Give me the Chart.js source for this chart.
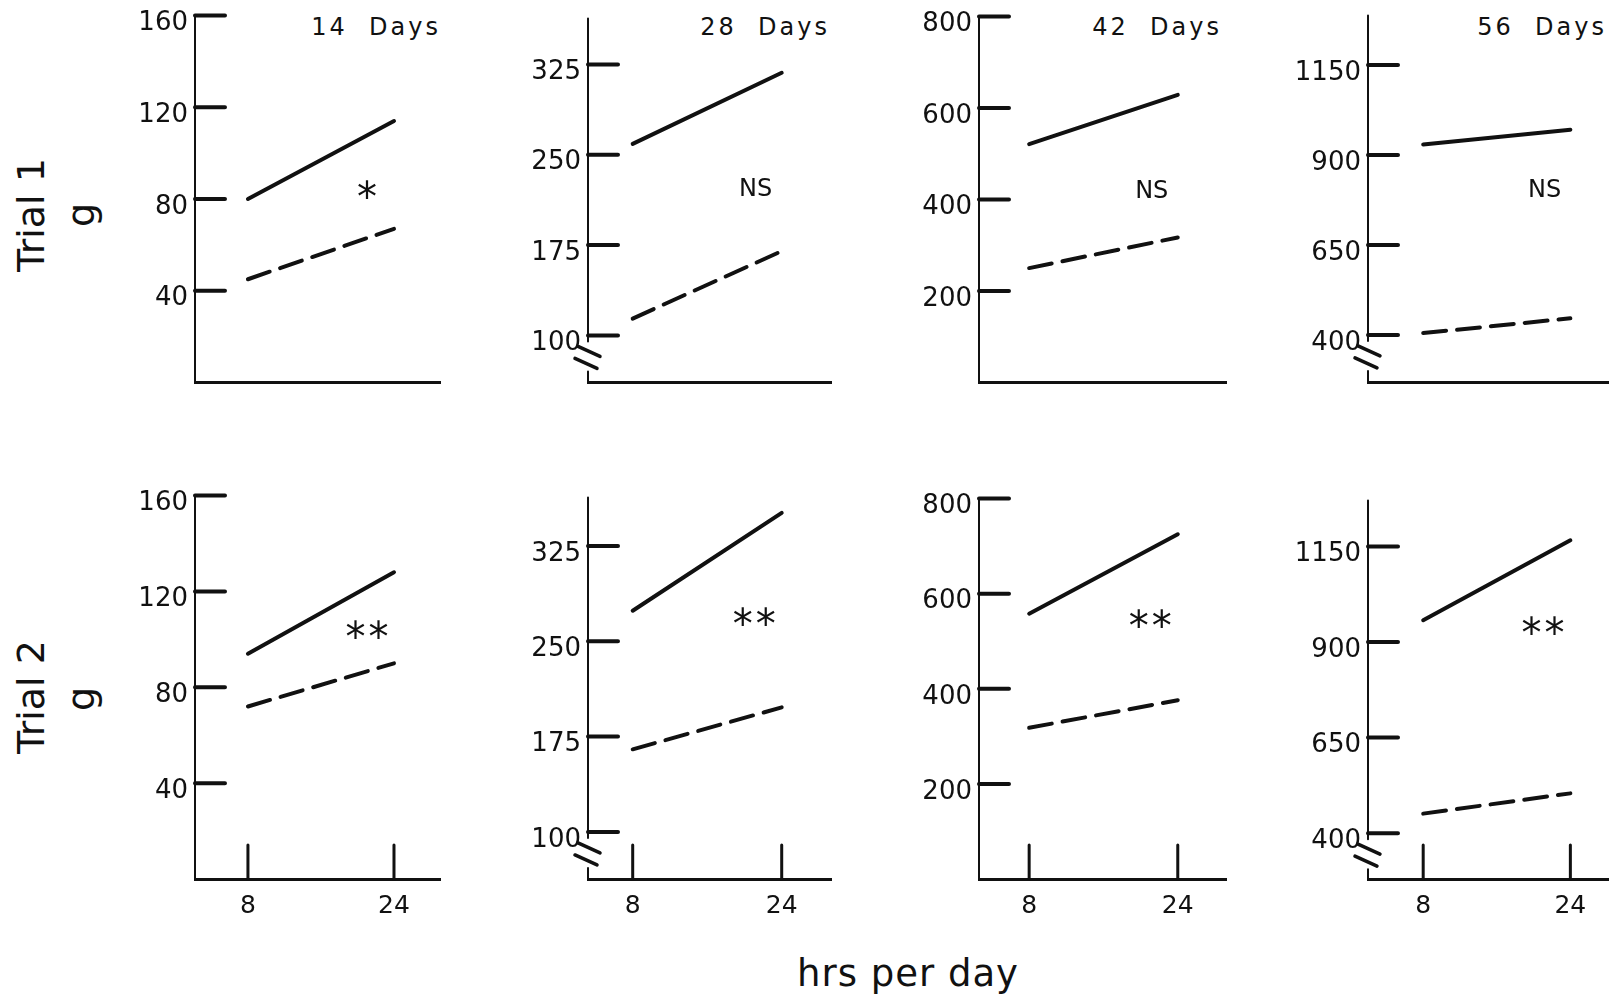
<!DOCTYPE html>
<html>
<head>
<meta charset="utf-8">
<script src="https://cdn.jsdelivr.net/npm/chart.js@4.4.1/dist/chart.umd.min.js"></script>
<style>
  body {
    margin: 0;
    width: 1609px;
    height: 994px;
    overflow: hidden;
    position: relative;
    background: #fff;
    color: #111;
    font-family: "DejaVu Sans", sans-serif;
  }
  canvas { position: absolute; }
  .lbl { position: absolute; white-space: pre; }
  .title { font-size: 24px; line-height: 24px; letter-spacing: 3px; width: 203px; text-align: right; }
  .side { font-size: 38px; line-height: 38px; width: 200px; height: 38px; text-align: center; transform: rotate(-90deg); }
  .xtitle { font-size: 37px; line-height: 37px; letter-spacing: 1px; width: 416px; text-align: center; }
</style>
</head>
<body>

<div class="lbl title" style="left:238px; top:15px">14  Days</div>
<div class="lbl title" style="left:627px; top:15px">28  Days</div>
<div class="lbl title" style="left:1019px; top:15px">42  Days</div>
<div class="lbl title" style="left:1404px; top:15px">56  Days</div>

<div class="lbl side" style="left:-69px; top:196px">Trial 1</div>
<div class="lbl side" style="left:-19px; top:196px">g</div>
<div class="lbl side" style="left:-69px; top:678px">Trial 2</div>
<div class="lbl side" style="left:-19px; top:680px">g</div>

<div class="lbl xtitle" style="left:700px; top:955px">hrs per day</div>

<script>
// data: 8 and 24 hrs per day, grams
const hours = [8, 24];
const yTicks14 = [40, 80, 120, 160];
const yTicks28 = [100, 175, 250, 325];
const yTicks42 = [200, 400, 600, 800];
const yTicks56 = [400, 650, 900, 1150];

// one pair per panel: 14, 28, 42, 56 days
const trial1Solid = [[80, 114], [259, 318], [521, 629], [929, 970]];
const trial1Dashed = [[45, 67], [114, 170], [250, 317], [405, 446]];
const trial2Solid = [[94, 128], [274, 351], [558, 725], [957, 1166]];
const trial2Dashed = [[72, 90], [165, 198], [318, 376], [451, 504]];

const trial1Marks = ["*", "NS", "NS", "NS"];
const trial2Marks = ["**", "**", "**", "**"];

// layout
const ink = "#111";
const yW = 90;
const padTop = 22;
const markHour = 21.2;
const markY = [[84, 223, 424, 809], [104, 269, 546, 943]];

const cols = [
  { axisX: 195, right: 441, xMin: 2.2, xMax: 29.15 },
  { axisX: 588, right: 832, xMin: 3.2, xMax: 29.4 },
  { axisX: 979, right: 1227, xMin: 2.6, xMax: 29.3 },
  { axisX: 1368, right: 1609, xMin: 2.0, xMax: 28.2 },
];
const rows = [
  { bottom: 401, tops: [15, 18, 16, 15], ranges: [[0, 160], [61, 363], [0, 800], [268, 1287]] },
  { bottom: 879, tops: [495, 497, 498, 500], ranges: [[0, 160], [63, 363], [0, 800], [280, 1270]] },
];

const series = [[trial1Solid, trial1Dashed], [trial2Solid, trial2Dashed]];
const marks = [trial1Marks, trial2Marks];
const yTickSets = [yTicks14, yTicks28, yTicks42, yTicks56];

Chart.defaults.font.family = '"DejaVu Sans", sans-serif';
Chart.defaults.color = ink;

// axis line, inward ticks, axis breaks and the significance marks
const makeDecor = (cfg) => ({
  id: "decor",
  afterDatasetsDraw(chart) {
    const { ctx, chartArea: a, scales: { x, y } } = chart;
    ctx.save();
    ctx.strokeStyle = ink;
    ctx.fillStyle = ink;
    ctx.lineCap = "round";

    ctx.lineWidth = 2;
    ctx.beginPath();
    if (cfg.broken) {
      const t = y.getPixelForValue(cfg.yTicks[0]);
      ctx.moveTo(a.left, a.top);
      ctx.lineTo(a.left, t + 6);
      ctx.moveTo(a.left, t + 36);
      ctx.lineTo(a.left, a.bottom);
    } else {
      ctx.moveTo(a.left, a.top);
      ctx.lineTo(a.left, a.bottom);
    }
    ctx.stroke();

    if (cfg.broken) {
      const t = y.getPixelForValue(cfg.yTicks[0]);
      ctx.lineWidth = 3.5;
      ctx.beginPath();
      ctx.moveTo(a.left - 10, t + 11);
      ctx.lineTo(a.left + 12, t + 21);
      ctx.moveTo(a.left - 13, t + 23);
      ctx.lineTo(a.left + 9, t + 33);
      ctx.stroke();
    }

    ctx.lineWidth = 4;
    ctx.beginPath();
    cfg.yTicks.forEach((v) => {
      const p = y.getPixelForValue(v);
      ctx.moveTo(a.left, p);
      ctx.lineTo(a.left + 30, p);
    });
    ctx.stroke();

    if (cfg.xTicks) {
      ctx.lineWidth = 3;
      ctx.beginPath();
      cfg.xTicks.forEach((v) => {
        const p = x.getPixelForValue(v);
        ctx.moveTo(p, a.bottom);
        ctx.lineTo(p, a.bottom - 34);
      });
      ctx.stroke();
    }

    const mx = x.getPixelForValue(markHour);
    const my = y.getPixelForValue(cfg.markY);
    ctx.textAlign = "center";
    ctx.textBaseline = "alphabetic";
    if (cfg.mark.startsWith("*")) {
      ctx.font = '40px "DejaVu Sans"';
      ctx.letterSpacing = "3px";
      ctx.fillText(cfg.mark, mx, my + 21);
    } else {
      ctx.font = '24px "DejaVu Sans"';
      ctx.fillText(cfg.mark, mx, my + 9);
    }
    ctx.restore();
  },
});

rows.forEach((row, r) => {
  cols.forEach((col, c) => {
    const top = row.tops[c];
    const [yMin, yMax] = row.ranges[c];
    const xH = r === 1 ? 44 : 4;
    const cv = document.createElement("canvas");
    cv.width = yW + col.right - col.axisX;
    cv.height = padTop + row.bottom - top + xH;
    cv.style.left = col.axisX - yW + "px";
    cv.style.top = top - padTop + "px";
    document.body.appendChild(cv);

    const solid = series[r][0][c];
    const dashed = series[r][1][c];
    const yTicks = yTickSets[c];

    new Chart(cv, {
      type: "line",
      data: {
        datasets: [
          {
            label: "solid",
            data: hours.map((h, k) => ({ x: h, y: solid[k] })),
            borderColor: ink,
            borderWidth: 4,
            borderCapStyle: "round",
            pointRadius: 0,
          },
          {
            label: "dashed",
            data: hours.map((h, k) => ({ x: h, y: dashed[k] })),
            borderColor: ink,
            borderWidth: 4,
            borderCapStyle: "round",
            borderDash: [23, 11],
            pointRadius: 0,
          },
        ],
      },
      options: {
        responsive: false,
        animation: false,
        devicePixelRatio: 1,
        events: [],
        layout: { padding: { top: padTop, left: 0, right: 0, bottom: 0 } },
        plugins: {
          legend: { display: false },
          tooltip: { enabled: false },
        },
        scales: {
          x: {
            type: "linear",
            min: col.xMin,
            max: col.xMax,
            afterBuildTicks: (s) => {
              s.ticks = r === 1 ? hours.map((v) => ({ value: v })) : [];
            },
            afterFit: (s) => {
              s.height = xH;
            },
            grid: { display: false, drawTicks: false },
            border: { display: true, width: 3, color: ink },
            ticks: {
              display: r === 1,
              font: { size: 25 },
              padding: 12,
              callback: (v) => String(v),
            },
          },
          y: {
            type: "linear",
            min: yMin,
            max: yMax,
            afterBuildTicks: (s) => {
              s.ticks = yTicks.map((v) => ({ value: v }));
            },
            afterFit: (s) => {
              s.width = yW;
            },
            grid: { display: false, drawTicks: false },
            border: { display: false },
            ticks: {
              font: { size: 26 },
              padding: 7,
              labelOffset: 8,
              callback: (v) => String(v),
            },
          },
        },
      },
      plugins: [makeDecor({
        yTicks,
        broken: c === 1 || c === 3,
        xTicks: r === 1 ? hours : null,
        mark: marks[r][c],
        markY: markY[r][c],
      })],
    });
  });
});
</script>
</body>
</html>
